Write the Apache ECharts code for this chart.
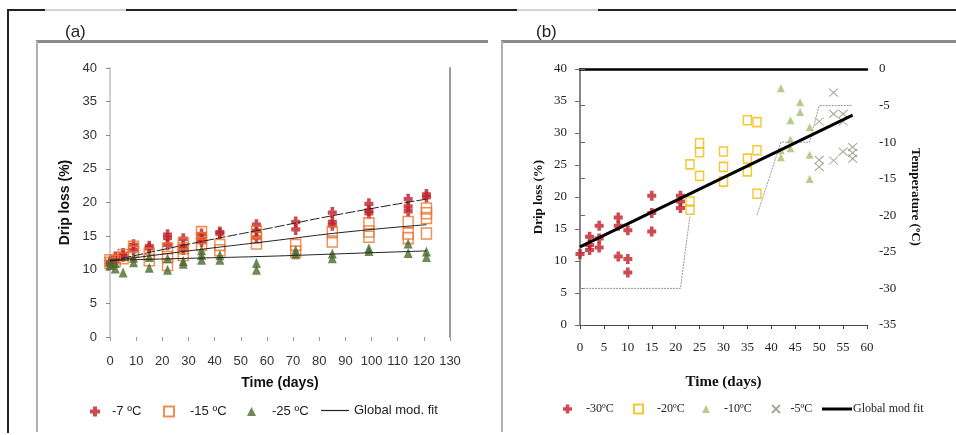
<!DOCTYPE html>
<html><head><meta charset="utf-8">
<script src="https://cdn.jsdelivr.net/npm/echarts@6/dist/echarts.min.js"></script>
<style>html,body{margin:0;padding:0;background:#fff}#c{width:956px;height:435px}</style>
</head><body><div id="c"></div>
<script>
// ---------- Panel (a) data: [time (days), drip loss (%)] ----------
const aMinus7 = [[0,11.2],[0,10.8],[2,11.9],[2,11.3],[5,12.4],[5,12.0],[9,13.7],[9,13.0],[15,13.5],[15,13.2],[22,15.2],[22,14.7],[22,13.7],[28,14.6],[28,13.5],[28,13.0],[35,15.3],[35,14.6],[35,14.2],[42,15.6],[42,15.4],[56,16.7],[56,15.8],[56,14.8],[71,17.1],[71,16.0],[85,18.5],[85,17.1],[85,16.6],[99,19.8],[99,18.8],[99,18.4],[114,20.5],[114,19.4],[114,18.7],[121,21.2],[121,20.8]];
const aMinus15 = [[0,11.4],[0,11.0],[2,11.3],[5,12.2],[5,11.7],[9,13.4],[9,12.7],[15,12.4],[15,11.4],[22,13.2],[22,11.9],[22,10.7],[28,13.9],[28,13.2],[28,12.2],[35,15.6],[35,14.7],[35,13.7],[42,13.7],[42,12.9],[56,15.7],[56,14.8],[56,13.9],[71,13.7],[71,12.7],[85,15.6],[85,14.2],[99,16.9],[99,15.7],[99,14.9],[114,17.1],[114,15.4],[114,14.7],[121,19.1],[121,18.4],[121,17.7],[121,15.4]];
const aMinus25 = [[0,11.2],[0,10.7],[2,11.0],[2,10.2],[5,9.6],[9,11.8],[9,11.1],[15,11.9],[15,10.3],[22,11.7],[22,10.0],[28,11.3],[28,10.9],[35,12.9],[35,12.2],[35,11.5],[42,12.2],[42,11.5],[56,11.0],[56,10.0],[71,12.9],[71,12.3],[85,12.4],[85,11.7],[99,13.2],[99,12.8],[114,13.9],[114,12.5],[121,12.7],[121,11.9]];
const aFit7  = [[0,11.3],[30,13.8],[60,16.1],[90,18.4],[121,20.5]];
const aFit15 = [[0,11.3],[30,12.8],[60,14.2],[90,15.6],[121,16.7]];
const aFit25 = [[0,11.4],[30,11.7],[60,12.0],[90,12.4],[121,12.8]];

// ---------- Panel (b) data ----------
const bMinus30 = [[0,11.1],[2,13.8],[2,12.5],[2,11.7],[4,15.5],[4,13.5],[4,12.1],[8,16.8],[8,15.5],[8,10.7],[10,14.8],[10,10.3],[10,8.2],[15,20.2],[15,17.5],[15,14.6],[21,20.2],[21,19.3],[21,18.3]];
const bMinus20 = [[23,19.3],[23,18.0],[23,25.1],[25,28.4],[25,27.0],[25,23.3],[30,27.1],[30,24.7],[30,22.4],[35,32.0],[35,26.0],[35,24.0],[37,31.7],[37,27.3],[37,20.5]];
const bMinus10 = [[42,37.0],[42,27.3],[42,26.2],[44,32.0],[44,29.0],[44,27.6],[46,34.8],[46,33.3],[48,30.9],[48,26.6],[48,22.8]];
const bMinus5  = [[50,31.8],[50,25.8],[50,24.7],[53,36.3],[53,33.0],[53,25.7],[55,33.0],[55,31.8],[55,27.1],[57,27.8],[57,26.9],[57,26.0]];
const bFit = [[0,12.2],[57,32.8]];
const bTempSeg1 = [[0,-30],[21,-30],[23,-20]];
const bTempSeg2 = [[37,-20],[42,-10],[48,-10],[50,-5],[57,-5]];

// ---------- tick / axis labels ----------
const aXTicks = {min:0, max:130, interval:10};
const aYTicks = {min:0, max:40, interval:5};
const bXTicks = {min:0, max:60, interval:5};
const bYTicks = {min:0, max:40, interval:5};
const bTTicks = {min:-35, max:0, interval:5};
const legendA = ['-7 ºC','-15 ºC','-25 ºC','Global mod. fit'];
const legendB = ['-30ºC','-20ºC','-10ºC','-5ºC','Global mod fit'];

const SANS = 'Liberation Sans';
const SERIF = 'Liberation Serif';
const PLUS = 'path://M3,0 H7 V3 H10 V7 H7 V10 H3 V7 H0 V3 H3 Z';
const XMARK = 'path://M0,0 L10,10 M10,0 L0,10';

const chart = echarts.init(document.getElementById('c'), null, {renderer:'canvas'});

function legendItem(name, left, top, iw, ih, font, size, pad, icon) {
  const d = icon ? {name, icon} : {name};
  return {data:[d], left, top, itemWidth:iw, itemHeight:ih, selectedMode:false, padding:0,
    textStyle:{fontFamily:font, fontSize:size, color:'#222', padding:[0,0,0,pad]}};
}

const option = {
  animation:false,
  backgroundColor:'#fff',
  grid:[
    {left:110, top:68, width:340, height:269},
    {left:580, top:69, width:287, height:256}
  ],
  xAxis:[
    {gridIndex:0, type:'value', ...aXTicks, axisLine:{show:false}, splitLine:{show:false},
     axisTick:{show:true, length:4, lineStyle:{color:'#999'}},
     axisLabel:{color:'#333', fontFamily:SANS, fontSize:13, margin:18},
     name:'Time (days)', nameLocation:'middle', nameGap:39,
     nameTextStyle:{fontFamily:SANS, fontWeight:'bold', fontSize:14, color:'#111'}},
    {gridIndex:1, type:'value', ...bXTicks, splitLine:{show:false},
     axisLine:{show:true, lineStyle:{color:'#444', width:1}},
     axisTick:{show:true, length:4, lineStyle:{color:'#444'}},
     axisLabel:{color:'#222', fontFamily:SERIF, fontSize:13, margin:16},
     name:'Time (days)', nameLocation:'middle', nameGap:50,
     nameTextStyle:{fontFamily:SERIF, fontWeight:'bold', fontSize:15, color:'#111'}},
    {gridIndex:1, type:'value', position:'top', ...bXTicks, splitLine:{show:false},
     axisLine:{show:true, lineStyle:{color:'#000', width:2.5}}, axisTick:{show:false}, axisLabel:{show:false}}
  ],
  yAxis:[
    {gridIndex:0, type:'value', ...aYTicks, splitLine:{show:false},
     axisLine:{show:true, lineStyle:{color:'#cfcfcf', width:2}},
     axisTick:{show:true, length:4, lineStyle:{color:'#888'}},
     axisLabel:{color:'#333', fontFamily:SANS, fontSize:13, margin:13},
     name:'Drip loss (%)', nameLocation:'middle', nameGap:38, nameRotate:90,
     nameTextStyle:{fontFamily:SANS, fontWeight:'bold', fontSize:14, color:'#111'}},
    {gridIndex:0, type:'value', position:'right', ...aYTicks, splitLine:{show:false},
     axisLine:{show:true, lineStyle:{color:'#999', width:2}}, axisTick:{show:false}, axisLabel:{show:false}},
    {gridIndex:1, type:'value', ...bYTicks, splitLine:{show:false},
     axisLine:{show:true, lineStyle:{color:'#c4c4c4', width:2}},
     axisTick:{show:true, length:5, lineStyle:{color:'#666'}},
     axisLabel:{color:'#222', fontFamily:SERIF, fontSize:13, margin:13},
     name:'Drip loss (%)', nameLocation:'middle', nameGap:35, nameRotate:90,
     nameTextStyle:{fontFamily:SERIF, fontWeight:'bold', fontSize:13, color:'#111'}},
    {gridIndex:1, type:'value', position:'right', ...bTTicks, splitLine:{show:false},
     axisLine:{show:true, lineStyle:{color:'#888', width:2}},
     axisTick:{show:true, length:5, lineStyle:{color:'#666'}},
     axisLabel:{color:'#222', fontFamily:SERIF, fontSize:13, margin:12},
     name:'Temperature (ºC)', nameLocation:'middle', nameGap:42, nameRotate:-90,
     nameTextStyle:{fontFamily:SERIF, fontWeight:'bold', fontSize:13, color:'#111'}}
  ],
  legend:[
    legendItem(legendA[0], 90, 405, 10, 11, SANS, 13, 7),
    legendItem(legendA[1], 163, 405, 10, 10, SANS, 13, 11),
    legendItem(legendA[2], 247, 405, 9, 9, SANS, 13, 11),
    legendItem(legendA[3], 321, 404, 28, 1.2, SANS, 13, 0, 'rect'),
    legendItem(legendB[0], 563, 403, 9, 10, SERIF, 12, 9),
    legendItem(legendB[1], 633, 403, 9, 9, SERIF, 12, 9),
    legendItem(legendB[2], 702, 403, 8, 8, SERIF, 12, 9),
    legendItem(legendB[3], 771, 403, 9, 8, SERIF, 12, 5),
    legendItem(legendB[4], 822, 403, 30, 3, SERIF, 12, -4, 'rect')
  ],
  series:[
    {name:legendA[0], type:'scatter', xAxisIndex:0, yAxisIndex:0, data:aMinus7,
     symbol:PLUS, symbolSize:[9,11], itemStyle:{color:'#c01f28'}},
    {name:legendA[1], type:'scatter', xAxisIndex:0, yAxisIndex:0, data:aMinus15,
     symbol:'rect', symbolSize:[10,11], itemStyle:{color:'rgba(0,0,0,0)', borderColor:'#e8732c', borderWidth:1.5}},
    {name:legendA[2], type:'scatter', xAxisIndex:0, yAxisIndex:0, data:aMinus25,
     symbol:'triangle', symbolSize:[9,10], itemStyle:{color:'#4a6a2c'}},
    {name:legendA[3], type:'line', xAxisIndex:0, yAxisIndex:0, data:aFit7, showSymbol:false, symbol:'none', smooth:true,
     lineStyle:{color:'#222', width:1, type:[10,2]}, itemStyle:{color:'#222'}},
    {name:legendA[3], type:'line', xAxisIndex:0, yAxisIndex:0, data:aFit15, showSymbol:false, symbol:'none', smooth:true,
     lineStyle:{color:'#222', width:1}, itemStyle:{color:'#222'}},
    {name:legendA[3], type:'line', xAxisIndex:0, yAxisIndex:0, data:aFit25, showSymbol:false, symbol:'none', smooth:true,
     lineStyle:{color:'#222', width:1}, itemStyle:{color:'#222'}},

    {name:'temp1', type:'line', xAxisIndex:1, yAxisIndex:3, data:bTempSeg1, showSymbol:false, symbol:'none',
     lineStyle:{color:'#999', width:1, type:[2,1]}},
    {name:'temp2', type:'line', xAxisIndex:1, yAxisIndex:3, data:bTempSeg2, showSymbol:false, symbol:'none',
     lineStyle:{color:'#999', width:1, type:[2,1]}},
    {name:legendB[0], type:'scatter', xAxisIndex:1, yAxisIndex:2, data:bMinus30,
     symbol:PLUS, symbolSize:[9,10], itemStyle:{color:'#c01f28'}},
    {name:legendB[1], type:'scatter', xAxisIndex:1, yAxisIndex:2, data:bMinus20,
     symbol:'rect', symbolSize:[8,9], itemStyle:{color:'rgba(0,0,0,0)', borderColor:'#f5b800', borderWidth:1.5}},
    {name:legendB[2], type:'scatter', xAxisIndex:1, yAxisIndex:2, data:bMinus10,
     symbol:'triangle', symbolSize:[8,8], itemStyle:{color:'#a4c271'}},
    {name:legendB[3], type:'scatter', xAxisIndex:1, yAxisIndex:2, data:bMinus5,
     symbol:XMARK, symbolSize:[9,8], itemStyle:{color:'rgba(0,0,0,0)', borderColor:'#8e9278', borderWidth:1}},
    {name:legendB[4], type:'line', xAxisIndex:1, yAxisIndex:2, data:bFit, showSymbol:false, symbol:'none',
     lineStyle:{color:'#000', width:3}, itemStyle:{color:'#000'}, z:5}
  ],
  graphic:[
    {type:'text', left:65, top:24, z:5, style:{text:'(a)', font:'17px '+SANS, fill:'#222'}},
    {type:'text', left:536, top:24, z:5, style:{text:'(b)', font:'17px '+SANS, fill:'#222'}},
    {type:'line', z:10, shape:{x1:8,y1:10,x2:45,y2:10}, style:{stroke:'#222', lineWidth:2}},
    {type:'line', z:10, shape:{x1:45,y1:10,x2:126,y2:10}, style:{stroke:'#aaa', lineWidth:1}},
    {type:'line', z:10, shape:{x1:126,y1:10,x2:517,y2:10}, style:{stroke:'#222', lineWidth:2}},
    {type:'line', z:10, shape:{x1:517,y1:10,x2:598,y2:10}, style:{stroke:'#aaa', lineWidth:1}},
    {type:'line', z:10, shape:{x1:598,y1:10,x2:956,y2:10}, style:{stroke:'#222', lineWidth:2}},
    {type:'line', z:10, shape:{x1:8,y1:9,x2:8,y2:433}, style:{stroke:'#222', lineWidth:2}},
    {type:'line', z:10, shape:{x1:36,y1:41.5,x2:488,y2:41.5}, style:{stroke:'#8a8a8a', lineWidth:3}},
    {type:'line', z:10, shape:{x1:37,y1:41,x2:37,y2:432}, style:{stroke:'#b0b0b0', lineWidth:2}},
    {type:'line', z:10, shape:{x1:501,y1:41.5,x2:956,y2:41.5}, style:{stroke:'#8a8a8a', lineWidth:3}},
    {type:'line', z:10, shape:{x1:502,y1:41,x2:502,y2:432}, style:{stroke:'#b0b0b0', lineWidth:2}}
  ]
};
chart.setOption(option);
</script></body></html>
